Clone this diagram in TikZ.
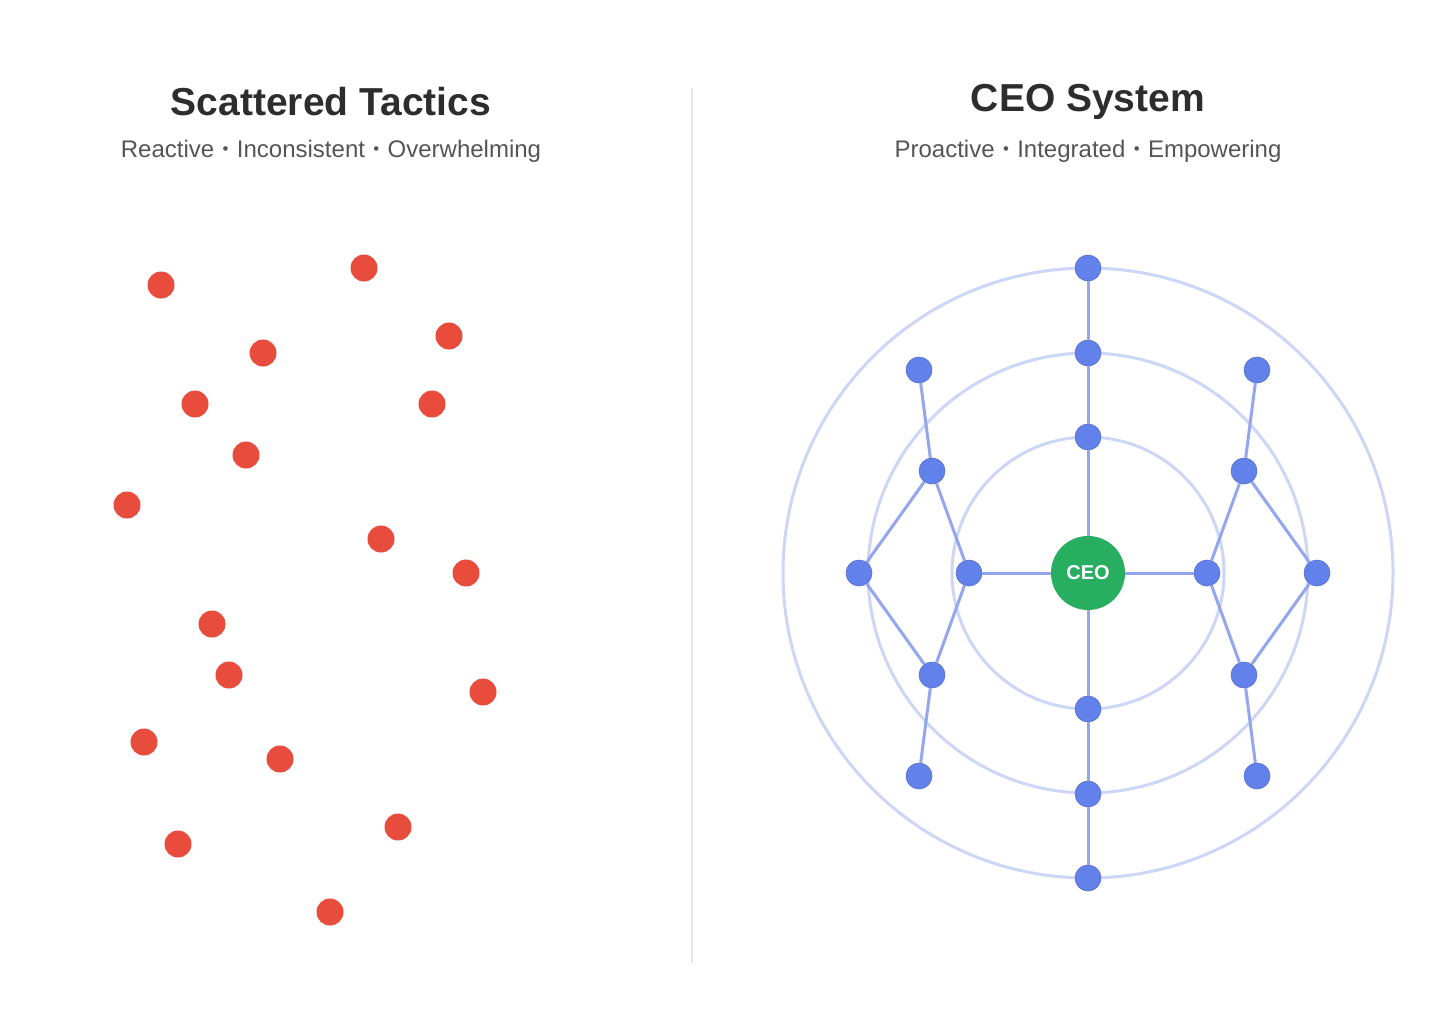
\documentclass[tikz,border=0pt]{standalone}
\usepackage{fontspec}
\setmainfont{Liberation Sans}
\definecolor{dotred}{HTML}{E74C3C}
\definecolor{hubblue}{HTML}{6381EA}
\definecolor{linkblue}{HTML}{93A6EE}
\definecolor{ringblue}{HTML}{CDD6F6}
\definecolor{ceogreen}{HTML}{27AE60}
\definecolor{titlegray}{HTML}{2D2D2D}
\definecolor{subgray}{HTML}{555555}
\definecolor{divgray}{HTML}{E6E6E6}
\newcommand{\sep}{\hspace{0.35em}\raisebox{0.12em}{\scalebox{0.7}{•}}\hspace{0.35em}}

\begin{document}
\begin{tikzpicture}[
    x=1pt, y=-1pt,
    title/.style = {font=\bfseries\fontsize{39}{44}\selectfont, text=titlegray},
    subtitle/.style = {font=\fontsize{24}{28}\selectfont, text=subgray},
    scatter/.style = {circle, fill=dotred, inner sep=0pt, minimum size=27pt},
    member/.style = {circle, fill=hubblue, draw=hubblue!85!black, line width=0.6pt,
                     inner sep=0pt, minimum size=26pt},
    hub/.style = {circle, fill=ceogreen, inner sep=0pt, minimum size=74pt,
                  text=white, font=\bfseries\fontsize{20}{24}\selectfont},
    link/.style = {draw=linkblue, line width=3pt},
    ring/.style = {draw=ringblue, line width=3pt}
]
\useasboundingbox[fill=white] (0,0) rectangle (1456,1028);

% headings
\node[title] (lefttitle) at (331,102) {Scattered Tactics};
\node[subtitle] (leftsub) at (331,151) {Reactive\sep Inconsistent\sep Overwhelming};
\node[title] (righttitle) at (1088,102) {CEO System};
\node[subtitle] (rightsub) at (1088,151) {Proactive\sep Integrated\sep Empowering};

% divider
\coordinate (divtop) at (692,88);
\coordinate (divbot) at (692,963);
\draw[divgray, line width=1.5pt] (divtop) -- (divbot);

% scattered tactics
\foreach \px/\py [count=\i] in {161/285, 364/268, 263/353, 449/336, 195/404,
    432/404, 246/455, 127/505, 381/539, 466/573, 212/624, 229/675,
    483/692, 144/742, 280/759, 398/827, 178/844, 330/912}
    \node[scatter] (tactic\i) at (\px,\py) {};

% ceo system rings
\coordinate (center) at (1088,573);
\foreach \r in {136, 220, 305}
    \draw[ring] (center) circle[radius=\r];

% members
\node[member] (top3) at (1088,268) {};
\node[member] (top2) at (1088,353) {};
\node[member] (top1) at (1088,437) {};
\node[member] (bot1) at (1088,709) {};
\node[member] (bot2) at (1088,794) {};
\node[member] (bot3) at (1088,878) {};
\node[member] (lin) at (969,573) {};
\node[member] (rin) at (1207,573) {};
\node[member] (lout) at (859,573) {};
\node[member] (rout) at (1317,573) {};
\node[member] (lup) at (932,471) {};
\node[member] (rup) at (1244,471) {};
\node[member] (llow) at (932,675) {};
\node[member] (rlow) at (1244,675) {};
\node[member] (lupend) at (919,370) {};
\node[member] (rupend) at (1257,370) {};
\node[member] (llowend) at (919,776) {};
\node[member] (rlowend) at (1257,776) {};

% links
\draw[link] (top3) -- (top2) -- (top1) -- (center) -- (bot1) -- (bot2) -- (bot3);
\draw[link] (lin) -- (center) -- (rin);
\draw[link] (lin) -- (lup) -- (lupend);
\draw[link] (lup) -- (lout) -- (llow) -- (lin);
\draw[link] (llow) -- (llowend);
\draw[link] (rin) -- (rup) -- (rupend);
\draw[link] (rup) -- (rout) -- (rlow) -- (rin);
\draw[link] (rlow) -- (rlowend);

\node[hub] (ceo) at (center) {CEO};

\end{tikzpicture}
\end{document}
